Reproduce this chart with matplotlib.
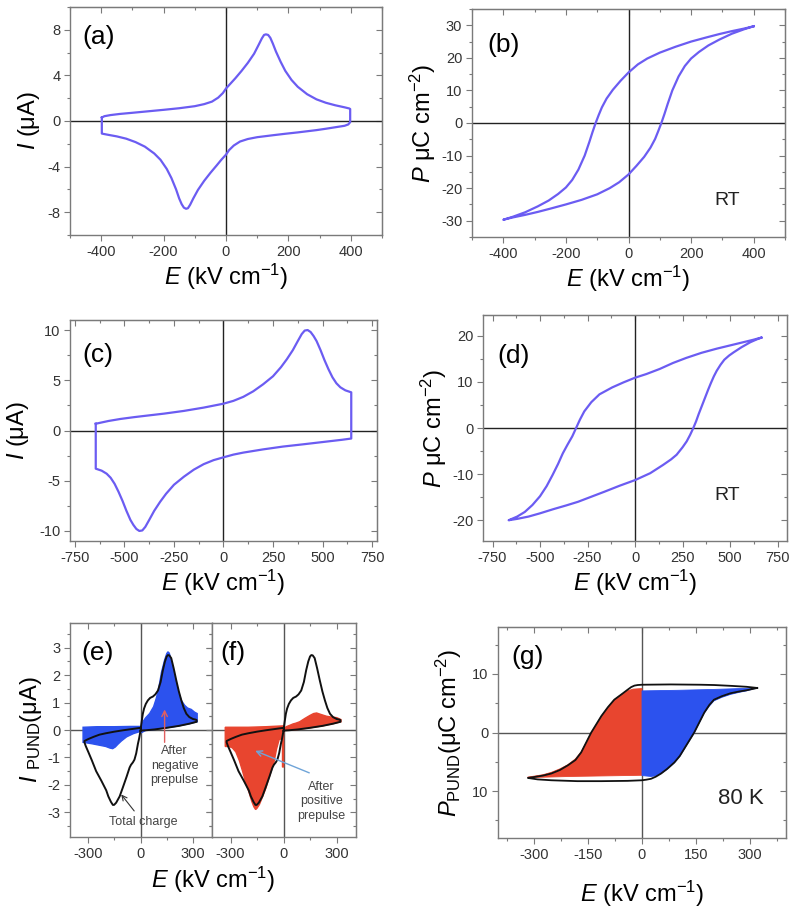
import numpy as np
import matplotlib.pyplot as plt
from matplotlib.ticker import MultipleLocator, FixedLocator, FixedFormatter

plt.rcParams['font.family'] = ['Liberation Sans', 'DejaVu Sans']
plt.rcParams['mathtext.fontset'] = 'custom'
plt.rcParams['mathtext.rm'] = 'Liberation Sans'
plt.rcParams['mathtext.it'] = 'Liberation Sans:italic'
plt.rcParams['axes.unicode_minus'] = False
plt.rcParams['lines.solid_joinstyle'] = 'round'

# ---- (a) I-E loop, RT ----
a_E = [-398, -390, -370, -340, -300, -250, -200, -150, -100, -70, -45, -25, -10, 0, 15, 30, 50, 70, 90,
       105, 115, 122, 128, 135, 142, 150, 160, 175, 190, 210, 230, 260, 290, 320, 350, 380, 395, 398,
       398, 392, 380, 350, 320, 290, 260, 230, 210, 190, 175, 160, 150, 142, 135, 128, 122, 115, 105,
       90, 70, 50, 30, 15, 0, -10, -25, -45, -70, -100, -150, -200, -250, -300, -340, -370, -390, -398, -398]
a_I = [0.3, 0.42, 0.52, 0.62, 0.72, 0.85, 0.98, 1.12, 1.3, 1.48, 1.7, 2.05, 2.45, 2.85, 3.3, 3.75, 4.4, 5.1, 5.9,
       6.7, 7.25, 7.55, 7.6, 7.55, 7.3, 6.8, 6.1, 5.2, 4.4, 3.6, 3.0, 2.35, 1.9, 1.6, 1.38, 1.2, 1.1, 1.05,
       -0.1, -0.35, -0.5, -0.62, -0.75, -0.88, -1.0, -1.15, -1.33, -1.5, -1.75, -2.1, -2.5, -2.95, -3.4, -3.9, -4.6,
       -5.3, -6.1, -6.8, -7.35, -7.65, -7.7, -7.6, -7.3, -6.8, -6.0, -5.0, -4.2, -3.4, -2.85, -2.25, -1.85, -1.55,
       -1.35, -1.2, -1.12, -1.1, 0.3]
# reorder lower half so E decreases from right to left
a_E = a_E[:38] + [398, 392, 380, 350, 320, 290, 260, 230, 190, 150, 100, 70, 45, 25, 10, 0, -15, -30, -50, -70,
                  -90, -105, -115, -122, -128, -135, -142, -150, -160, -175, -190, -210, -230, -260, -290, -320,
                  -350, -380, -395, -398, -398]
a_I = a_I[:38] + [-0.1, -0.3, -0.42, -0.55, -0.68, -0.8, -0.9, -1.0, -1.12, -1.25, -1.42, -1.58, -1.8, -2.15, -2.55,
                  -2.95, -3.4, -3.9, -4.55, -5.25, -6.05, -6.8, -7.35, -7.65, -7.7, -7.6, -7.3, -6.8, -6.0, -5.0,
                  -4.2, -3.4, -2.85, -2.25, -1.85, -1.55, -1.35, -1.2, -1.12, -1.1, 0.3]

# ---- (b) P-E loop, RT ----
b_E = [400, 370, 330, 290, 250, 200, 150, 100, 60, 30, 0, -25, -50, -70, -85, -95, -105, -115, -125, -140,
       -160, -180, -200, -225, -255, -290, -330, -370, -400,
       -370, -330, -290, -250, -200, -150, -100, -60, -30, 0, 25, 50, 70, 85, 95, 105, 115, 125, 140,
       160, 180, 200, 225, 255, 290, 330, 370, 400]
b_P = [29.7, 29.0, 28.2, 27.3, 26.3, 25.0, 23.4, 21.6, 19.8, 18.0, 15.5, 13.0, 10.2, 7.5, 4.8, 2.5, 0.0, -2.8, -5.8, -10.0,
       -14.3, -17.5, -19.8, -21.8, -23.8, -25.6, -27.4, -28.8, -29.7,
       -29.0, -28.2, -27.3, -26.3, -25.0, -23.6, -21.9, -20.0, -18.2, -15.8, -13.2, -10.4, -7.6, -4.9, -2.5, 0.0, 2.8, 5.8, 10.0,
       14.3, 17.5, 19.8, 21.8, 23.8, 25.6, 27.4, 28.8, 29.7]

# ---- (c) I-E loop ----
c_E = [-645, -620, -580, -520, -451, -400, -300, -200, -100, 0, 50, 100, 150, 200, 250, 290, 320, 350, 375, 395,
       410, 425, 440, 455, 470, 490, 510, 530, 550, 570, 590, 615, 645,
       645, 600, 500, 400, 300, 200, 100, 50, 0, -50, -100, -150, -200, -250, -290, -320, -350, -375, -395,
       -410, -425, -440, -455, -470, -490, -510, -530, -550, -570, -590, -615, -645, -645]
c_I = [0.67, 0.78, 0.95, 1.15, 1.33, 1.45, 1.68, 1.95, 2.28, 2.67, 2.95, 3.35, 3.9, 4.6, 5.4, 6.3, 7.1, 8.0, 8.9, 9.6,
       9.95, 10.0, 9.8, 9.4, 8.9, 8.0, 7.0, 6.1, 5.3, 4.7, 4.3, 4.0, 3.8,
       -0.8, -0.92, -1.15, -1.38, -1.6, -1.88, -2.2, -2.4, -2.67, -2.95, -3.35, -3.9, -4.6, -5.4, -6.3, -7.1, -8.0, -8.9, -9.6,
       -9.95, -10.0, -9.8, -9.4, -8.9, -8.0, -7.0, -6.1, -5.3, -4.7, -4.3, -4.0, -3.8, 0.67]

# ---- (d) P-E loop ----
d_E = [665, 620, 560, 500, 430, 350, 270, 200, 130, 60, 0, -60, -120, -187, -230, -267, -290, -310, -330, -355,
       -380, -405, -434, -465, -500, -540, -580, -620, -665,
       -620, -560, -500, -430, -363, -300, -230, -160, -80, 0, 80, 148, 190, 219, 250, 272, 290, 307, 322,
       335, 352, 369, 385, 400, 415, 430, 450, 470, 495, 519, 560, 607, 640, 665]
d_P = [19.6, 19.1, 18.5, 17.9, 17.2, 16.3, 15.2, 14.1, 12.8, 11.7, 10.9, 9.9, 8.8, 7.3, 5.6, 3.6, 1.8, 0.0, -1.8, -3.6,
       -5.5, -7.8, -10.2, -12.6, -14.8, -16.7, -18.2, -19.2, -20.0,
       -19.7, -19.2, -18.5, -17.6, -16.8, -16.0, -14.9, -13.8, -12.5, -11.3, -9.8, -8.0, -6.8, -5.8, -4.2, -2.9, -1.5, 0.0, 1.5,
       3.0, 4.8, 6.6, 8.3, 9.8, 11.2, 12.4, 13.7, 14.8, 15.7, 16.4, 17.5, 18.6, 19.2, 19.6]

# ---- (e)/(f) PUND total charge ----
pund_E = [0, 3, 8, 13, 20, 30, 42, 55, 71, 85, 100, 115, 128, 140, 150, 157, 165, 176, 190, 205, 220, 234, 248,
          263, 280, 301, 315, 322, 322, 280, 220, 150, 80, 30, 0,
          -3, -8, -15, -25, -35, -44, -55, -63, -80, -102, -120, -140, -152, -159, -170, -185, -197, -225, -255,
          -280, -300, -315, -322, -322, -300, -270, -236, -200, -150, -100, -44, 0]
pund_I = [-0.02, 0.15, 0.38, 0.59, 0.78, 0.95, 1.08, 1.17, 1.22, 1.3, 1.44, 1.75, 2.18, 2.5, 2.68, 2.73, 2.72, 2.62,
          2.25, 1.81, 1.4, 1.08, 0.8, 0.59, 0.47, 0.4, 0.38, 0.36, 0.3, 0.23, 0.15, 0.08, 0.02, -0.01, -0.02,
          -0.12, -0.3, -0.5, -0.85, -1.08, -1.18, -1.27, -1.37, -1.7, -2.1, -2.42, -2.65, -2.73, -2.73, -2.62, -2.42,
          -2.2, -1.85, -1.5, -1.1, -0.8, -0.58, -0.45, -0.4, -0.33, -0.25, -0.17, -0.12, -0.06, -0.01, 0.04, 0.08]

# after negative prepulse (blue)
eneg_pos_E = [5, 13, 30, 52, 75, 90, 100, 109, 120, 138, 150, 157, 165, 175, 186, 200, 215, 234, 253, 270, 291,
              310, 325, 325, 280, 220, 150, 80, 30, 5]
eneg_pos_I = [0.1, 0.3, 0.45, 0.6, 0.85, 1.15, 1.4, 1.7, 2.1, 2.55, 2.78, 2.85, 2.8, 2.55, 2.2, 1.8, 1.44, 1.08,
              0.9, 0.8, 0.75, 0.65, 0.6, 0.3, 0.23, 0.15, 0.08, 0.02, -0.01, -0.1]
eneg_neg_E = [-330, -250, -150, -60, 0, 0, -40, -80, -110, -130, -145, -160, -175, -200, -240, -280, -310, -330]
eneg_neg_I = [0.1, 0.12, 0.12, 0.13, 0.13, -0.05, -0.13, -0.25, -0.4, -0.52, -0.62, -0.68, -0.66, -0.6, -0.55,
              -0.5, -0.47, -0.45]

# after positive prepulse (red)
fpos_pos_E = [3, 15, 35, 53, 70, 91, 120, 149, 170, 187, 215, 244, 275, 301, 325, 325, 280, 220, 150, 80, 30, 3]
fpos_pos_I = [0.05, 0.12, 0.17, 0.22, 0.25, 0.3, 0.42, 0.53, 0.6, 0.62, 0.56, 0.5, 0.47, 0.45, 0.38,
              0.3, 0.23, 0.15, 0.08, 0.02, -0.01, -0.02]
fpos_neg_E = [-330, -200, -100, -5, 0, 0, -6, -6, -25, -40, -55, -70, -85, -99, -120, -137, -150, -158, -168,
              -180, -194, -215, -232, -250, -270, -290, -309, -330]
fpos_neg_I = [0.1, 0.1, 0.12, 0.15, 0.15, -1.35, -1.35, -0.3, -0.35, -0.7, -1.2, -1.5, -1.8, -2.1, -2.45,
              -2.72, -2.85, -2.9, -2.8, -2.6, -2.3, -1.9, -1.5, -1.12, -0.8, -0.65, -0.6, -0.6]

# ---- (g) P_PUND loop, 80 K ----
g_E = [320, 290, 250, 200, 163, 80, 0, -12, -21, -30, -40, -55, -77, -95, -113, -127, -141, -155, -169, -185,
       -206, -228, -252, -275, -300, -317,
       -290, -252, -180, -113, -40, 0, 12, 25, 38, 53, 70, 90, 105, 117, 131, 145, 159, 173, 187, 200, 222,
       246, 270, 290, 320]
g_P = [7.6, 7.8, 7.95, 8.1, 8.15, 8.2, 8.15, 8.1, 8.0, 7.75, 7.3, 6.6, 5.6, 4.3, 2.8, 1.4, 0.0, -1.7, -3.4, -4.7,
       -5.6, -6.4, -7.0, -7.35, -7.6, -7.75,
       -8.0, -8.15, -8.3, -8.3, -8.25, -8.15, -8.05, -7.9, -7.55, -7.0, -6.2, -5.1, -4.0, -2.8, -1.4, 0.0, 1.7, 3.4,
       4.7, 5.6, 6.2, 6.7, 7.0, 7.2, 7.6]
g_red_E = [-317, -300, -275, -252, -228, -206, -185, -169, -155, -141, -127, -113, -95, -77, -55, -40, -25, 0,
           0, -100, -200, -317]
g_red_P = [-7.6, -7.45, -7.2, -6.8, -6.2, -5.5, -4.5, -3.3, -1.7, 0.0, 1.4, 2.8, 4.3, 5.6, 6.6, 7.1, 7.4, 7.5,
           -7.3, -7.4, -7.5, -7.7]
g_blue_E = [0, 100, 200, 320, 290, 270, 246, 222, 200, 187, 173, 159, 145, 131, 117, 105, 90, 70, 53, 38, 25, 0]
g_blue_P = [7.1, 7.2, 7.35, 7.6, 7.1, 6.85, 6.5, 6.0, 5.4, 4.5, 3.3, 1.6, -0.1, -1.5, -2.9, -4.1, -5.2, -6.3,
            -7.0, -7.4, -7.5, -7.35]

LINE = '#6b5cf2'
BLUE = '#2c52ee'
RED = '#e8452f'
FRAME = '#7a7a7a'
TXT = '#333333'
W, H = 800, 911

fig = plt.figure(figsize=(8, 9.11), dpi=100)


def make_ax(l, r, t, b):
    return fig.add_axes([l / W, 1 - b / H, (r - l) / W, (b - t) / H])


def style(ax, xlim, ylim, xmaj, xmin, ymaj, ymin, ylabels=True, yticks=None, yticklabels=None):
    ax.set_xlim(*xlim)
    ax.set_ylim(*ylim)
    ax.xaxis.set_major_locator(MultipleLocator(xmaj))
    ax.xaxis.set_minor_locator(MultipleLocator(xmin))
    if yticks is not None:
        ax.yaxis.set_major_locator(FixedLocator(yticks))
        ax.yaxis.set_major_formatter(FixedFormatter(yticklabels))
    else:
        ax.yaxis.set_major_locator(MultipleLocator(ymaj))
    ax.yaxis.set_minor_locator(MultipleLocator(ymin))
    for s in ax.spines.values():
        s.set_color(FRAME)
        s.set_linewidth(1.0)
    ax.tick_params(which='both', direction='out', color=FRAME, labelcolor=TXT, labelsize=10.5, width=0.8)
    ax.tick_params(which='major', length=4, pad=3)
    ax.tick_params(which='minor', length=2.5)
    ax.tick_params(axis='y', labelleft=ylabels)
    # inward ticks on top and right
    sx = ax.secondary_xaxis('top')
    sx.xaxis.set_major_locator(MultipleLocator(xmaj))
    sx.xaxis.set_minor_locator(MultipleLocator(xmin))
    sx.tick_params(which='both', direction='in', color=FRAME, labeltop=False, width=0.8)
    sx.tick_params(which='major', length=4)
    sx.tick_params(which='minor', length=2.5)
    sx.spines['top'].set_color(FRAME)
    sy = ax.secondary_yaxis('right')
    if yticks is not None:
        sy.yaxis.set_major_locator(FixedLocator(yticks))
    else:
        sy.yaxis.set_major_locator(MultipleLocator(ymaj))
    sy.yaxis.set_minor_locator(MultipleLocator(ymin))
    sy.tick_params(which='both', direction='in', color=FRAME, labelright=False, width=0.8)
    sy.tick_params(which='major', length=4)
    sy.tick_params(which='minor', length=2.5)
    sy.spines['right'].set_color(FRAME)


def zero_lines(ax, c='#222222'):
    ax.axhline(0, color=c, lw=1.0, zorder=1)
    ax.axvline(0, color=c, lw=1.0, zorder=1)


XLAB = '$E$ (kV cm$^{-1}$)'

# (a)
ax = make_ax(70, 382, 7, 235)
zero_lines(ax)
ax.plot(a_E, a_I, color=LINE, lw=1.6, zorder=3)
style(ax, (-500, 500), (-10, 10), 200, 100, 4, 2)
ax.set_xlabel(XLAB, fontsize=17, labelpad=2)
ax.set_ylabel('$I$ (μA)', fontsize=17, labelpad=4)
ax.text(0.04, 0.87, '(a)', transform=ax.transAxes, fontsize=19, va='center')

# (b)
ax = make_ax(472, 785, 9, 237)
zero_lines(ax)
ax.plot(b_E, b_P, color=LINE, lw=1.6, zorder=3)
style(ax, (-500, 500), (-35, 35), 200, 100, 10, 5)
ax.set_xlabel(XLAB, fontsize=17, labelpad=2)
ax.set_ylabel('$P$ μC cm$^{-2}$)', fontsize=17, labelpad=2)
ax.text(0.05, 0.84, '(b)', transform=ax.transAxes, fontsize=19, va='center')
ax.text(316, -23.7, 'RT', fontsize=14, ha='center', va='center', color='#222')

# (c)
ax = make_ax(70, 377, 320, 541)
zero_lines(ax)
ax.plot(c_E, c_I, color=LINE, lw=1.6, zorder=3)
style(ax, (-775, 775), (-11, 11), 250, 125, 5, 2.5)
ax.set_xlabel(XLAB, fontsize=17, labelpad=2)
ax.set_ylabel('$I$ (μA)', fontsize=17, labelpad=6)
ax.text(0.04, 0.84, '(c)', transform=ax.transAxes, fontsize=19, va='center')

# (d)
ax = make_ax(483, 787, 315, 541)
zero_lines(ax)
ax.plot(d_E, d_P, color=LINE, lw=1.6, zorder=3)
style(ax, (-800, 800), (-24.5, 24.5), 250, 125, 10, 5)
ax.set_xlabel(XLAB, fontsize=17, labelpad=2)
ax.set_ylabel('$P$ μC cm$^{-2}$)', fontsize=17, labelpad=2)
ax.text(0.046, 0.82, '(d)', transform=ax.transAxes, fontsize=19, va='center')
ax.text(483, -14.6, 'RT', fontsize=14, ha='center', va='center', color='#222')

# (e)
ax = make_ax(70, 212, 623, 837)
zero_lines(ax, '#555555')
ax.fill(eneg_pos_E, eneg_pos_I, color=BLUE, lw=1.0, ec=BLUE, zorder=2)
ax.fill(eneg_neg_E, eneg_neg_I, color=BLUE, lw=1.0, ec=BLUE, zorder=2)
ax.plot(pund_E, pund_I, color='#111111', lw=1.4, zorder=3)
style(ax, (-405, 410), (-3.9, 3.9), 300, 150, 1, 0.5)
ax.set_ylabel('$I$ $_{\\mathrm{PUND}}$(μA)', fontsize=17, labelpad=2)
ax.text(0.08, 0.86, '(e)', transform=ax.transAxes, fontsize=19, va='center')
ax.annotate('', xy=(138, 0.85), xytext=(138, -0.55),
            arrowprops=dict(arrowstyle='->', color='#e06060', lw=1.0), zorder=4)
ax.text(195, -1.3, 'After\nnegative\nprepulse', fontsize=9, ha='center', va='center',
        color='#444', linespacing=1.3)
ax.annotate('Total charge', xy=(-111, -2.35), xytext=(13, -3.35),
            fontsize=9, ha='center', va='center', color='#444',
            arrowprops=dict(arrowstyle='->', color='#333', lw=0.8, shrinkA=2, shrinkB=0))

# (f)
ax = make_ax(212, 356, 623, 837)
zero_lines(ax, '#555555')
ax.fill(fpos_pos_E, fpos_pos_I, color=RED, lw=1.0, ec=RED, zorder=2)
ax.fill(fpos_neg_E, fpos_neg_I, color=RED, lw=1.0, ec=RED, zorder=2)
ax.plot(pund_E, pund_I, color='#111111', lw=1.4, zorder=3)
style(ax, (-405, 410), (-3.9, 3.9), 300, 150, 1, 0.5, ylabels=False)
ax.text(0.06, 0.86, '(f)', transform=ax.transAxes, fontsize=19, va='center')
ax.annotate('', xy=(-175, -0.72), xytext=(160, -1.6),
            arrowprops=dict(arrowstyle='->', color='#6fa4d8', lw=1.0), zorder=4)
ax.text(215, -2.6, 'After\npositive\nprepulse', fontsize=9, ha='center', va='center',
        color='#444', linespacing=1.3)
fig.text(213 / W, 1 - 880 / H, XLAB, fontsize=17, ha='center', va='center')

# (g)
ax = make_ax(498, 786, 627, 838)
zero_lines(ax, '#555555')
ax.fill(g_red_E, g_red_P, color=RED, lw=0.6, ec=RED, zorder=2)
ax.fill(g_blue_E, g_blue_P, color=BLUE, lw=0.6, ec=BLUE, zorder=2)
ax.plot(g_E, g_P, color='#111111', lw=1.3, zorder=3)
style(ax, (-400, 400), (-18, 18), 150, 75, 10, 5,
      yticks=[-10, 0, 10], yticklabels=['10', '0', '10'])
ax.set_xlabel(XLAB, fontsize=17, labelpad=12)
ax.set_ylabel('$P_{\\mathrm{PUND}}$(μC cm$^{-2}$)', fontsize=17, labelpad=6)
ax.text(0.045, 0.86, '(g)', transform=ax.transAxes, fontsize=19, va='center')
ax.text(274, -11.2, '80 K', fontsize=16, ha='center', va='center', color='#222')

fig.savefig('out.png', dpi=100)
